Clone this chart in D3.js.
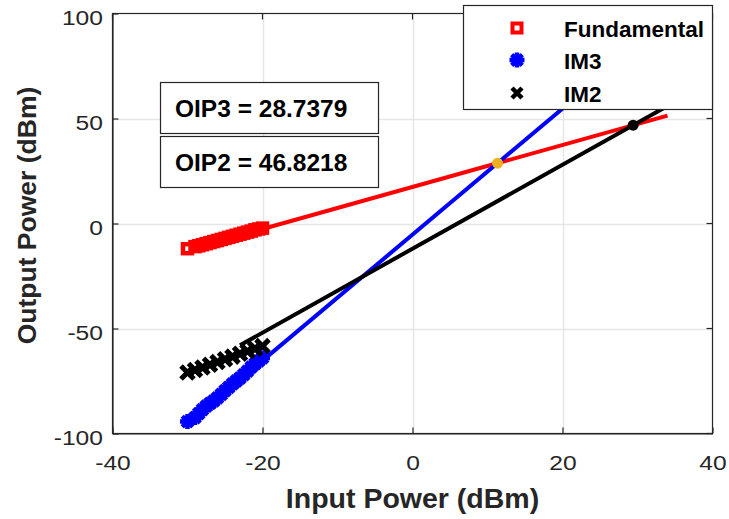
<!DOCTYPE html>
<html><head><meta charset="utf-8">
<script src="https://cdn.jsdelivr.net/npm/d3@7"></script>
<style>body{margin:0;background:#fff}svg{display:block}</style>
</head><body><svg id="c" width="729" height="519"></svg>
<script>
const inputPower = [-30,-29,-28.5,-28,-27.5,-27,-26.5,-26,-25.5,-25,-24.5,-24,-23.5,-23,-22.5,-22,-21.5,-21,-20.5,-20];
const fundamental = [-12.0,-11.0,-10.6,-10.1,-9.6,-9.1,-8.6,-8.1,-7.6,-7.1,-6.6,-6.1,-5.6,-5.1,-4.6,-4.1,-3.6,-3.0,-2.6,-2.2];
const im3 = [-94.3,-92.4,-90.5,-88.6,-87.0,-85.7,-84.5,-83.0,-81.4,-79.6,-78.0,-76.4,-75.0,-73.6,-72.0,-70.3,-68.4,-66.8,-65.4,-64.0];
const im2Input = [-30,-29,-28,-27,-26,-25,-24,-23,-22,-21,-20];
const im2 = [-71.0,-69.8,-68.6,-67.3,-66.0,-64.6,-63.4,-62.0,-60.8,-59.6,-58.4];
const fundLine = [[-20,-2.6],[34,51.4]];
const im3Line = [[-20,-65.3],[34,96.7]];
const im2Line = [[-23,-58.0],[34,56.0]];
const oip3Point = [11.34, 28.7379];
const oip2Point = [29.42, 46.8218];
const xTicks = [-40,-20,0,20,40];
const yTicks = [-100,-50,0,50,100];
const legendLabels = ["Fundamental","IM3","IM2"];
const annotations = ["OIP3 = 28.7379","OIP2 = 46.8218"];

const svg = d3.select("#c");
const L=112.5,R=712.5,T=13.5,B=433.5;
const x = d3.scaleLinear().domain([-40,40]).range([L,R]);
const y = d3.scaleLinear().domain([-100,100]).range([B,T]);
const font = "Arial, 'Liberation Sans', sans-serif";

svg.append("clipPath").attr("id","clip").append("rect").attr("x",L).attr("y",T).attr("width",R-L).attr("height",B-T);

// grid
const g = svg.append("g");
xTicks.slice(1,-1).forEach(t=>g.append("line").attr("x1",Math.round(x(t))+0.5).attr("x2",Math.round(x(t))+0.5).attr("y1",T).attr("y2",B).attr("stroke","#e6e6e6").attr("stroke-width",1.5));
yTicks.slice(1,-1).forEach(t=>g.append("line").attr("y1",Math.round(y(t))+0.5).attr("y2",Math.round(y(t))+0.5).attr("x1",L).attr("x2",R).attr("stroke","#e6e6e6").attr("stroke-width",1.5));

// axes
const fmt = d => String(d);
const xAx = d3.axisBottom(x).tickValues(xTicks).tickFormat(fmt).tickSizeInner(-6).tickSizeOuter(0).tickPadding(22);
const yAx = d3.axisLeft(y).tickValues(yTicks).tickFormat(fmt).tickSizeInner(-6).tickSizeOuter(0).tickPadding(8);
const gx = svg.append("g").attr("transform",`translate(0,${B})`).call(xAx);
const gy = svg.append("g").attr("transform",`translate(${L},0)`).call(yAx);
[gx,gy].forEach(a=>{a.selectAll("path,line").attr("stroke","#262626").attr("stroke-width",1.2);a.selectAll("text").attr("fill","#262626").style("font-family",font).style("font-size","20.5px").attr("transform","scale(1.2,1)");});
gy.selectAll("text").attr("dy","0.55em");
// top/right box
svg.append("rect").attr("x",L).attr("y",T).attr("width",R-L).attr("height",B-T).attr("fill","none").attr("stroke","#262626").attr("stroke-width",1.2);
xTicks.forEach(t=>svg.append("line").attr("x1",x(t)).attr("x2",x(t)).attr("y1",T).attr("y2",T+6).attr("stroke","#262626").attr("stroke-width",1.2));
yTicks.forEach(t=>svg.append("line").attr("y1",y(t)).attr("y2",y(t)).attr("x1",R).attr("x2",R-6).attr("stroke","#262626").attr("stroke-width",1.2));

const plot = svg.append("g").attr("clip-path","url(#clip)");
// markers
const starPath = r => { let p=""; for(let k=0;k<4;k++){const a=k*Math.PI/4;p+=`M${-r*Math.cos(a)},${-r*Math.sin(a)}L${r*Math.cos(a)},${r*Math.sin(a)}`;} return p; };
const xPath = r => `M${-r},${-r}L${r},${r}M${-r},${r}L${r},${-r}`;
plot.selectAll(".sq").data(inputPower).enter().append("rect")
  .attr("x",(d)=>x(d)-4.5).attr("y",(d,i)=>y(fundamental[i])-4.5).attr("width",9).attr("height",9)
  .attr("fill","none").attr("stroke","#ff0000").attr("stroke-width",4.5);
plot.selectAll(".st").data(inputPower).enter().append("path")
  .attr("transform",(d,i)=>`translate(${x(d)},${y(im3[i])})`).attr("d",starPath(7.5))
  .attr("stroke","#0000ff").attr("stroke-width",4.5).attr("fill","none");
plot.selectAll(".xx").data(im2Input).enter().append("path")
  .attr("transform",(d,i)=>`translate(${x(d)},${y(im2[i])})`).attr("d",xPath(6.5))
  .attr("stroke","#000").attr("stroke-width",5).attr("fill","none");
// fit lines
const line = d3.line().x(d=>x(d[0])).y(d=>y(d[1]));
plot.append("path").attr("d",line(fundLine)).attr("stroke","#ff0000").attr("stroke-width",4).attr("fill","none");
plot.append("path").attr("d",line(im3Line)).attr("stroke","#0000ff").attr("stroke-width",4).attr("fill","none");
plot.append("path").attr("d",line(im2Line)).attr("stroke","#000").attr("stroke-width",4).attr("fill","none");
// intercept dots
plot.append("circle").attr("cx",x(oip3Point[0])).attr("cy",y(oip3Point[1])).attr("r",5.5).attr("fill","#edb120");
plot.append("circle").attr("cx",x(oip2Point[0])).attr("cy",y(oip2Point[1])).attr("r",5.5).attr("fill","#000");

// annotation boxes
annotations.forEach((t,i)=>{
  const by = 82.5 + i*54;
  svg.append("rect").attr("x",160.5).attr("y",by).attr("width",218).attr("height",51).attr("fill","#fff").attr("stroke","#262626").attr("stroke-width",1.2);
  svg.append("text").attr("x",175).attr("y",by+34).text(t).style("font-family",font).style("font-weight","bold").style("font-size","24.5px").attr("fill","#000");
});

// legend
svg.append("rect").attr("x",463.5).attr("y",5.5).attr("width",249).attr("height",104).attr("fill","#fff").attr("stroke","#262626").attr("stroke-width",1.2);
const ly = [28,60,93];
svg.append("rect").attr("x",517-4.5).attr("y",ly[0]-4.5).attr("width",9).attr("height",9).attr("fill","none").attr("stroke","#ff0000").attr("stroke-width",4);
svg.append("path").attr("transform",`translate(517,${ly[1]})`).attr("d",starPath(7.5)).attr("stroke","#0000ff").attr("stroke-width",4.5);
svg.append("path").attr("transform",`translate(517,${ly[2]})`).attr("d",xPath(5)).attr("stroke","#000").attr("stroke-width",4.5);
legendLabels.forEach((t,i)=>svg.append("text").attr("x",564).attr("y",ly[i]+9).text(t).style("font-family",font).style("font-weight","bold").style("font-size","22.5px").attr("fill","#000"));

// axis titles
svg.append("text").attr("x",(L+R)/2).attr("y",508).attr("text-anchor","middle").text("Input Power (dBm)").style("font-family",font).style("font-weight","bold").style("font-size","28.5px").attr("fill","#262626");
svg.append("text").attr("transform",`translate(36,${(T+B)/2-8}) rotate(-90)`).attr("text-anchor","middle").text("Output Power (dBm)").style("font-family",font).style("font-weight","bold").style("font-size","26.5px").attr("fill","#262626");
</script></body></html>
